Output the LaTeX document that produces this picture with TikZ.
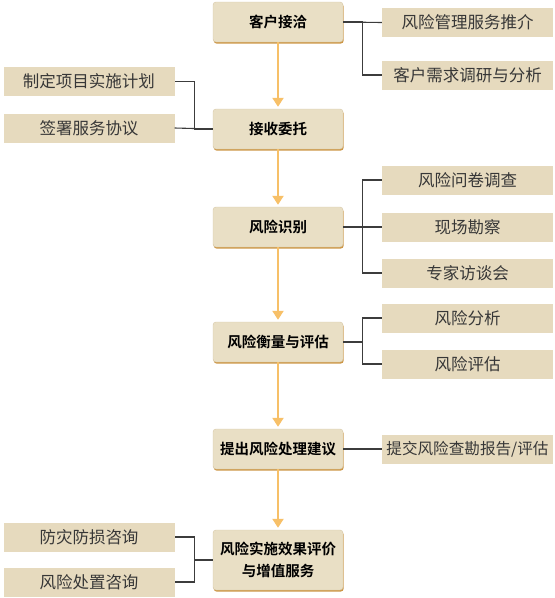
\documentclass[tikz,border=0pt]{standalone}
\usepackage{fontspec}
\newfontfamily\cjk{Noto Sans CJK SC}[BoldFont={Noto Sans CJK SC Bold}]
\usetikzlibrary{arrows.meta,shadows}
\definecolor{fofill}{RGB}{233,223,197}
\definecolor{foedge}{RGB}{214,200,168}
\definecolor{foshadow}{RGB}{205,150,70}
\definecolor{mellekfill}{RGB}{230,218,190}
\definecolor{mellektext}{RGB}{55,55,55}
\definecolor{nyilszin}{RGB}{247,192,104}
\definecolor{vonalszin}{RGB}{60,60,60}

\begin{document}
\begin{tikzpicture}[>=Triangle, x=1pt, y=-1pt,
    fo/.style={rounded corners=3pt, fill=fofill, draw=foedge, line width=0.4pt,
        minimum width=130pt, minimum height=40pt, inner sep=1pt, align=center,
        font=\cjk\bfseries\fontsize{14.5}{22}\selectfont,
        drop shadow={shadow xshift=0.7pt, shadow yshift=-1.6pt, fill=foshadow, opacity=1}},
    mellek/.style={fill=mellekfill, minimum width=171pt, minimum height=29pt, inner sep=0pt,
        text=mellektext, font=\cjk\fontsize{16.5}{20}\selectfont},
    nyil/.style={-{Triangle[width=11pt,length=9pt]}, line width=2.4pt, draw=nyilszin, shorten >=2pt},
    vonal/.style={draw=vonalszin, line width=1.1pt}]
    \useasboundingbox (0,0) rectangle (555,598);

    % Fo lepesek (kozepso oszlop)
    \node[fo] (kehu) at (278,22) {客户接洽};
    \node[fo] (jieshou) at (278,129) {接收委托};
    \node[fo] (shibie) at (278,227) {风险识别};
    \node[fo] (hengliang) at (278,342) {风险衡量与评估};
    \node[fo] (jianyi) at (278,449) {提出风险处理建议};
    \node[fo, minimum height=60pt] (pingjia) at (278,560) {风险实施效果评价\\与增值服务};

    % Jobb oldali dobozok
    \node[mellek] (tuijie) at (467.5,22.5) {风险管理服务推介};
    \node[mellek] (diaoyan) at (467.5,75) {客户需求调研与分析};
    \node[mellek] (wenjuan) at (467.5,180) {风险问卷调查};
    \node[mellek] (kancha) at (467.5,227) {现场勘察};
    \node[mellek] (fangtan) at (467.5,273) {专家访谈会};
    \node[mellek] (fenxi) at (467.5,318) {风险分析};
    \node[mellek] (pinggu) at (467.5,364) {风险评估};
    \node[mellek, font=\cjk\fontsize{15.6}{20}\selectfont] (baogao) at (467.5,449) {提交风险查勘报告/评估};

    % Bal oldali dobozok
    \node[mellek] (jihua) at (89,81.5) {制定项目实施计划};
    \node[mellek] (xieyi) at (89,128) {签署服务协议};
    \node[mellek] (fangzai) at (89,537) {防灾防损咨询};
    \node[mellek] (chuzhi) at (89,582) {风险处置咨询};

    % Nyilak lefele
    \draw[nyil] (kehu.south) -- (jieshou.north);
    \draw[nyil] (jieshou.south) -- (shibie.north);
    \draw[nyil] (shibie.south) -- (hengliang.north);
    \draw[nyil] (hengliang.south) -- (jianyi.north);
    \draw[nyil] (jianyi.south) -- (pingjia.north);

    % Osszekoto vonalak jobbra
    \draw[vonal] (kehu.east) -- (tuijie.west);
    \draw[vonal] (kehu.east) -- ++(19,0) |- (diaoyan.west);
    \draw[vonal] (shibie.east) -- ++(19,0) |- (wenjuan.west);
    \draw[vonal] (shibie.east) -- (kancha.west);
    \draw[vonal] (shibie.east) -- ++(19,0) |- (fangtan.west);
    \draw[vonal] (hengliang.east) -- ++(19,0) |- (fenxi.west);
    \draw[vonal] (hengliang.east) -- ++(19,0) |- (pinggu.west);
    \draw[vonal] (jianyi.east) -- (baogao.west);

    % Osszekoto vonalak balra
    \draw[vonal] (jieshou.west) -- ++(-18,0) |- (jihua.east);
    \draw[vonal] (jieshou.west) -- (xieyi.east);
    \draw[vonal] (pingjia.west) -- ++(-18,0) |- (fangzai.east);
    \draw[vonal] (pingjia.west) -- ++(-18,0) |- (chuzhi.east);

\end{tikzpicture}
\end{document}
